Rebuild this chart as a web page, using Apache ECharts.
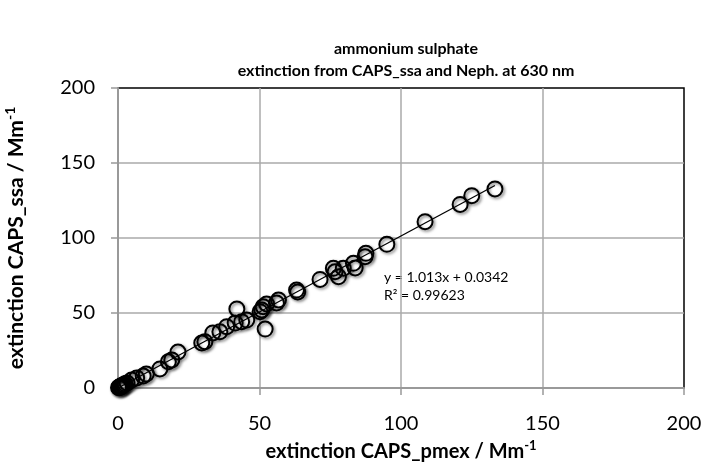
<!DOCTYPE html>
<html><head><meta charset="utf-8">
<script src="https://cdn.jsdelivr.net/npm/echarts@6/dist/echarts.min.js"></script>
<style>html,body{margin:0;padding:0;background:#fff}#c{width:709px;height:473px}</style>
</head><body><div id="c"></div>
<script>
var xTicks = [0, 50, 100, 150, 200];
var yTicks = [0, 50, 100, 150, 200];
var pmex = [0.2,0.5,0.8,1.2,1.6,2.0,0.4,1.0,2.5,3.2,4.8,6.6,8.9,10,14.8,17.8,19,21.2,29.6,30.7,33.5,36,38.4,41.4,42,43.7,45.5,50.2,51.3,52,56,50.8,52.5,56.7,63.1,63.5,71.4,76.1,77.9,79.6,83.2,83.8,76.7,87.3,87.6,95,108.5,120.9,125,133.2];
var ssa  = [0.3,0.6,1.0,1.3,1.8,2.2,0.1,0.5,2.8,3.4,5.3,6.7,8.0,9.3,12.7,17.5,18.7,24,30,30.9,36.7,37.5,40.9,43.3,52.7,44.2,45.3,50.9,54.2,39.3,56.7,52,56,58.7,65.3,64,72.4,79.8,74.2,79.8,83.1,80,77.5,87.5,89.8,95.8,110.9,122.4,128.2,132.7];
var slope = 1.013, intercept = 0.0342;
var fitX = [0, 133.2];
var eqText = ['y = 1.013x + 0.0342', 'R² = 0.99623'];

var pts = pmex.map(function(v,i){return [v, ssa[i]];});
var fit = fitX.map(function(x){return [x, slope*x+intercept];});
var chart = echarts.init(document.getElementById('c'));
var font = 'Lato';
chart.setOption({
  animation:false,
  title:{text:'ammonium sulphate\nextinction from CAPS_ssa and Neph. at 630 nm', left:401, top:33, textAlign:'center',
    textStyle:{fontFamily:font, fontSize:16, fontWeight:'bold', color:'#000', lineHeight:22}},
  grid:{left:118, top:88, right:25, bottom:85, show:true, borderColor:'#000', borderWidth:1.5, outerBoundsMode:'none', containLabel:false},
  xAxis:{type:'value', min:0, max:200, interval:50,
    axisLine:{show:true, onZero:false, lineStyle:{color:'#999', width:2}},
    axisTick:{show:true, length:7, lineStyle:{color:'#999', width:1.5}},
    axisLabel:{fontFamily:font, fontSize:20, color:'#000', margin:26, showMaxLabel:true},
    splitLine:{show:true, showMaxLine:false, lineStyle:{color:'#aaa', width:1.5}},
    name:'{a|extinction CAPS_pmex / Mm}{s|-1}', nameLocation:'middle', nameGap:50,
    nameTextStyle:{rich:{a:{fontFamily:font, fontSize:20, fontWeight:'bold', color:'#000'}, s:{fontFamily:font, fontSize:13, fontWeight:'bold', color:'#000', padding:[0,0,12,0]}}}
  },
  yAxis:{type:'value', min:0, max:200, interval:50,
    axisLine:{show:true, onZero:false, lineStyle:{color:'#999', width:2}},
    axisTick:{show:true, length:7, lineStyle:{color:'#999', width:1.5}},
    axisLabel:{fontFamily:font, fontSize:20, color:'#000', margin:23},
    splitLine:{show:true, showMaxLine:false, lineStyle:{color:'#aaa', width:1.5}},
    name:'{a|extinction CAPS_ssa / Mm}{s|-1}', nameLocation:'middle', nameGap:89,
    nameTextStyle:{rich:{a:{fontFamily:font, fontSize:21, fontWeight:'bold', color:'#000'}, s:{fontFamily:font, fontSize:14, fontWeight:'bold', color:'#000', padding:[0,0,12,0]}}}
  },
  series:[
    {type:'scatter', data:pts, symbol:'circle', symbolSize:15,
      itemStyle:{color:'rgba(255,255,255,0)', borderColor:'#000', borderWidth:2, opacity:1, shadowBlur:3, shadowOffsetX:1.5, shadowOffsetY:1.5, shadowColor:'rgba(0,0,0,0.55)'}, z:2},
    {type:'line', data:fit, showSymbol:false, symbol:'none', lineStyle:{color:'#000', width:1.3}, z:3, silent:true}
  ],
  graphic:[
    {type:'text', left:384, top:268, style:{text:eqText.join('\n'), fontFamily:font, fontSize:14, lineHeight:18, fill:'#000'}}
  ]
});
</script></body></html>
